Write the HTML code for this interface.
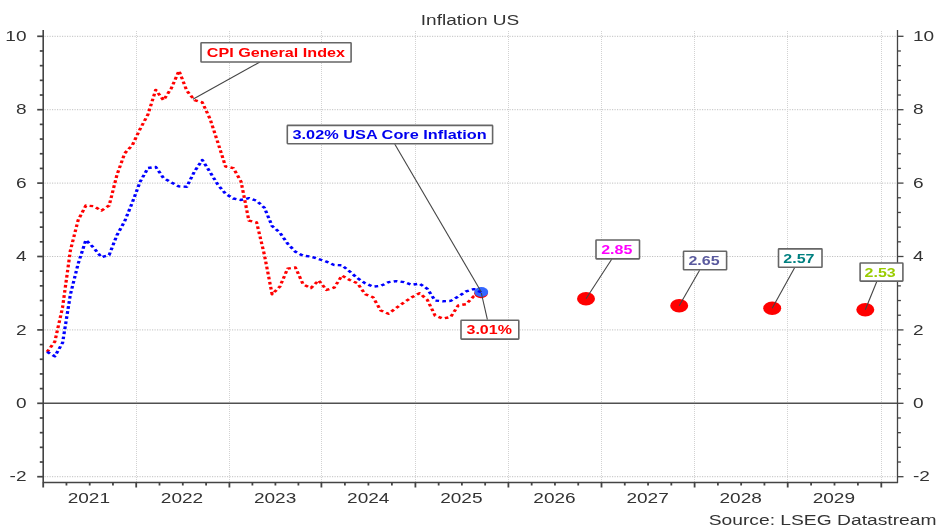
<!DOCTYPE html>
<html><head><meta charset="utf-8"><style>
html,body{margin:0;padding:0;background:#fff;width:940px;height:529px;overflow:hidden}
svg{display:block;will-change:transform}
text{font-family:"Liberation Sans",sans-serif}
</style></head><body>
<svg width="940" height="529" viewBox="0 0 940 529">
<g stroke="#c0c0c0" stroke-width="1"><line x1="44.5" y1="36.30" x2="897" y2="36.30" stroke-dasharray="1.2 1.3"/><line x1="44.5" y1="109.70" x2="897" y2="109.70" stroke-dasharray="1.2 1.3"/><line x1="44.5" y1="183.10" x2="897" y2="183.10" stroke-dasharray="1.2 1.3"/><line x1="44.5" y1="256.50" x2="897" y2="256.50" stroke-dasharray="1.2 1.3"/><line x1="44.5" y1="329.90" x2="897" y2="329.90" stroke-dasharray="1.2 1.3"/><line x1="44.5" y1="476.70" x2="897" y2="476.70" stroke-dasharray="1.2 1.3"/><line x1="136.5" y1="31" x2="136.5" y2="482" stroke-dasharray="1 1" stroke="#d2d2d2"/><line x1="229.5" y1="31" x2="229.5" y2="482" stroke-dasharray="1 1" stroke="#d2d2d2"/><line x1="321.5" y1="31" x2="321.5" y2="482" stroke-dasharray="1 1" stroke="#d2d2d2"/><line x1="415.5" y1="31" x2="415.5" y2="482" stroke-dasharray="1 1" stroke="#d2d2d2"/><line x1="508.5" y1="31" x2="508.5" y2="482" stroke-dasharray="1 1" stroke="#d2d2d2"/><line x1="601.5" y1="31" x2="601.5" y2="482" stroke-dasharray="1 1" stroke="#d2d2d2"/><line x1="694.5" y1="31" x2="694.5" y2="482" stroke-dasharray="1 1" stroke="#d2d2d2"/><line x1="787.5" y1="31" x2="787.5" y2="482" stroke-dasharray="1 1" stroke="#d2d2d2"/><line x1="881.5" y1="31" x2="881.5" y2="482" stroke-dasharray="1 1" stroke="#d2d2d2"/></g>
<line x1="43.5" y1="403.3" x2="897.5" y2="403.3" stroke="#505050" stroke-width="1.5"/>
<g stroke="#444" stroke-width="1.3"><line x1="43.2" y1="30" x2="43.2" y2="483" stroke-width="1.6"/><line x1="897.5" y1="30" x2="897.5" y2="483"/><line x1="43" y1="482.5" x2="898" y2="482.5"/><line x1="37.2" y1="476.70" x2="43.2" y2="476.70" stroke-width="1.7"/><line x1="897.5" y1="476.70" x2="903.5" y2="476.70"/><line x1="39.800000000000004" y1="462.02" x2="43.2" y2="462.02" stroke-width="1.7"/><line x1="897.5" y1="462.02" x2="900.9" y2="462.02"/><line x1="39.800000000000004" y1="447.34" x2="43.2" y2="447.34" stroke-width="1.7"/><line x1="897.5" y1="447.34" x2="900.9" y2="447.34"/><line x1="39.800000000000004" y1="432.66" x2="43.2" y2="432.66" stroke-width="1.7"/><line x1="897.5" y1="432.66" x2="900.9" y2="432.66"/><line x1="39.800000000000004" y1="417.98" x2="43.2" y2="417.98" stroke-width="1.7"/><line x1="897.5" y1="417.98" x2="900.9" y2="417.98"/><line x1="37.2" y1="403.30" x2="43.2" y2="403.30" stroke-width="1.7"/><line x1="897.5" y1="403.30" x2="903.5" y2="403.30"/><line x1="39.800000000000004" y1="388.62" x2="43.2" y2="388.62" stroke-width="1.7"/><line x1="897.5" y1="388.62" x2="900.9" y2="388.62"/><line x1="39.800000000000004" y1="373.94" x2="43.2" y2="373.94" stroke-width="1.7"/><line x1="897.5" y1="373.94" x2="900.9" y2="373.94"/><line x1="39.800000000000004" y1="359.26" x2="43.2" y2="359.26" stroke-width="1.7"/><line x1="897.5" y1="359.26" x2="900.9" y2="359.26"/><line x1="39.800000000000004" y1="344.58" x2="43.2" y2="344.58" stroke-width="1.7"/><line x1="897.5" y1="344.58" x2="900.9" y2="344.58"/><line x1="37.2" y1="329.90" x2="43.2" y2="329.90" stroke-width="1.7"/><line x1="897.5" y1="329.90" x2="903.5" y2="329.90"/><line x1="39.800000000000004" y1="315.22" x2="43.2" y2="315.22" stroke-width="1.7"/><line x1="897.5" y1="315.22" x2="900.9" y2="315.22"/><line x1="39.800000000000004" y1="300.54" x2="43.2" y2="300.54" stroke-width="1.7"/><line x1="897.5" y1="300.54" x2="900.9" y2="300.54"/><line x1="39.800000000000004" y1="285.86" x2="43.2" y2="285.86" stroke-width="1.7"/><line x1="897.5" y1="285.86" x2="900.9" y2="285.86"/><line x1="39.800000000000004" y1="271.18" x2="43.2" y2="271.18" stroke-width="1.7"/><line x1="897.5" y1="271.18" x2="900.9" y2="271.18"/><line x1="37.2" y1="256.50" x2="43.2" y2="256.50" stroke-width="1.7"/><line x1="897.5" y1="256.50" x2="903.5" y2="256.50"/><line x1="39.800000000000004" y1="241.82" x2="43.2" y2="241.82" stroke-width="1.7"/><line x1="897.5" y1="241.82" x2="900.9" y2="241.82"/><line x1="39.800000000000004" y1="227.14" x2="43.2" y2="227.14" stroke-width="1.7"/><line x1="897.5" y1="227.14" x2="900.9" y2="227.14"/><line x1="39.800000000000004" y1="212.46" x2="43.2" y2="212.46" stroke-width="1.7"/><line x1="897.5" y1="212.46" x2="900.9" y2="212.46"/><line x1="39.800000000000004" y1="197.78" x2="43.2" y2="197.78" stroke-width="1.7"/><line x1="897.5" y1="197.78" x2="900.9" y2="197.78"/><line x1="37.2" y1="183.10" x2="43.2" y2="183.10" stroke-width="1.7"/><line x1="897.5" y1="183.10" x2="903.5" y2="183.10"/><line x1="39.800000000000004" y1="168.42" x2="43.2" y2="168.42" stroke-width="1.7"/><line x1="897.5" y1="168.42" x2="900.9" y2="168.42"/><line x1="39.800000000000004" y1="153.74" x2="43.2" y2="153.74" stroke-width="1.7"/><line x1="897.5" y1="153.74" x2="900.9" y2="153.74"/><line x1="39.800000000000004" y1="139.06" x2="43.2" y2="139.06" stroke-width="1.7"/><line x1="897.5" y1="139.06" x2="900.9" y2="139.06"/><line x1="39.800000000000004" y1="124.38" x2="43.2" y2="124.38" stroke-width="1.7"/><line x1="897.5" y1="124.38" x2="900.9" y2="124.38"/><line x1="37.2" y1="109.70" x2="43.2" y2="109.70" stroke-width="1.7"/><line x1="897.5" y1="109.70" x2="903.5" y2="109.70"/><line x1="39.800000000000004" y1="95.02" x2="43.2" y2="95.02" stroke-width="1.7"/><line x1="897.5" y1="95.02" x2="900.9" y2="95.02"/><line x1="39.800000000000004" y1="80.34" x2="43.2" y2="80.34" stroke-width="1.7"/><line x1="897.5" y1="80.34" x2="900.9" y2="80.34"/><line x1="39.800000000000004" y1="65.66" x2="43.2" y2="65.66" stroke-width="1.7"/><line x1="897.5" y1="65.66" x2="900.9" y2="65.66"/><line x1="39.800000000000004" y1="50.98" x2="43.2" y2="50.98" stroke-width="1.7"/><line x1="897.5" y1="50.98" x2="900.9" y2="50.98"/><line x1="37.2" y1="36.30" x2="43.2" y2="36.30" stroke-width="1.7"/><line x1="897.5" y1="36.30" x2="903.5" y2="36.30"/><line x1="43.20" y1="482.5" x2="43.20" y2="487.5" stroke-width="1.8"/><line x1="66.45" y1="482.5" x2="66.45" y2="485.5" stroke-width="1.8"/><line x1="89.70" y1="482.5" x2="89.70" y2="485.5" stroke-width="1.8"/><line x1="112.95" y1="482.5" x2="112.95" y2="485.5" stroke-width="1.8"/><line x1="136.20" y1="482.5" x2="136.20" y2="487.5" stroke-width="1.8"/><line x1="159.50" y1="482.5" x2="159.50" y2="485.5" stroke-width="1.8"/><line x1="182.80" y1="482.5" x2="182.80" y2="485.5" stroke-width="1.8"/><line x1="206.10" y1="482.5" x2="206.10" y2="485.5" stroke-width="1.8"/><line x1="229.40" y1="482.5" x2="229.40" y2="487.5" stroke-width="1.8"/><line x1="252.40" y1="482.5" x2="252.40" y2="485.5" stroke-width="1.8"/><line x1="275.40" y1="482.5" x2="275.40" y2="485.5" stroke-width="1.8"/><line x1="298.40" y1="482.5" x2="298.40" y2="485.5" stroke-width="1.8"/><line x1="321.40" y1="482.5" x2="321.40" y2="487.5" stroke-width="1.8"/><line x1="344.90" y1="482.5" x2="344.90" y2="485.5" stroke-width="1.8"/><line x1="368.40" y1="482.5" x2="368.40" y2="485.5" stroke-width="1.8"/><line x1="391.90" y1="482.5" x2="391.90" y2="485.5" stroke-width="1.8"/><line x1="415.40" y1="482.5" x2="415.40" y2="487.5" stroke-width="1.8"/><line x1="438.65" y1="482.5" x2="438.65" y2="485.5" stroke-width="1.8"/><line x1="461.90" y1="482.5" x2="461.90" y2="485.5" stroke-width="1.8"/><line x1="485.15" y1="482.5" x2="485.15" y2="485.5" stroke-width="1.8"/><line x1="508.40" y1="482.5" x2="508.40" y2="487.5" stroke-width="1.8"/><line x1="531.67" y1="482.5" x2="531.67" y2="485.5" stroke-width="1.8"/><line x1="554.95" y1="482.5" x2="554.95" y2="485.5" stroke-width="1.8"/><line x1="578.23" y1="482.5" x2="578.23" y2="485.5" stroke-width="1.8"/><line x1="601.50" y1="482.5" x2="601.50" y2="487.5" stroke-width="1.8"/><line x1="624.77" y1="482.5" x2="624.77" y2="485.5" stroke-width="1.8"/><line x1="648.05" y1="482.5" x2="648.05" y2="485.5" stroke-width="1.8"/><line x1="671.33" y1="482.5" x2="671.33" y2="485.5" stroke-width="1.8"/><line x1="694.60" y1="482.5" x2="694.60" y2="487.5" stroke-width="1.8"/><line x1="717.88" y1="482.5" x2="717.88" y2="485.5" stroke-width="1.8"/><line x1="741.15" y1="482.5" x2="741.15" y2="485.5" stroke-width="1.8"/><line x1="764.43" y1="482.5" x2="764.43" y2="485.5" stroke-width="1.8"/><line x1="787.70" y1="482.5" x2="787.70" y2="487.5" stroke-width="1.8"/><line x1="811.10" y1="482.5" x2="811.10" y2="485.5" stroke-width="1.8"/><line x1="834.50" y1="482.5" x2="834.50" y2="485.5" stroke-width="1.8"/><line x1="857.90" y1="482.5" x2="857.90" y2="485.5" stroke-width="1.8"/><line x1="881.30" y1="482.5" x2="881.30" y2="487.5" stroke-width="1.8"/></g>
<g font-family="Liberation Sans, sans-serif"><text transform="translate(26.50,40.90) scale(1.36,1)" text-anchor="end" font-size="14" font-weight="normal" fill="#333">10</text><text transform="translate(912.90,40.90) scale(1.36,1)" text-anchor="start" font-size="14" font-weight="normal" fill="#333">10</text><text transform="translate(26.50,114.30) scale(1.36,1)" text-anchor="end" font-size="14" font-weight="normal" fill="#333">8</text><text transform="translate(912.90,114.30) scale(1.36,1)" text-anchor="start" font-size="14" font-weight="normal" fill="#333">8</text><text transform="translate(26.50,187.70) scale(1.36,1)" text-anchor="end" font-size="14" font-weight="normal" fill="#333">6</text><text transform="translate(912.90,187.70) scale(1.36,1)" text-anchor="start" font-size="14" font-weight="normal" fill="#333">6</text><text transform="translate(26.50,261.10) scale(1.36,1)" text-anchor="end" font-size="14" font-weight="normal" fill="#333">4</text><text transform="translate(912.90,261.10) scale(1.36,1)" text-anchor="start" font-size="14" font-weight="normal" fill="#333">4</text><text transform="translate(26.50,334.50) scale(1.36,1)" text-anchor="end" font-size="14" font-weight="normal" fill="#333">2</text><text transform="translate(912.90,334.50) scale(1.36,1)" text-anchor="start" font-size="14" font-weight="normal" fill="#333">2</text><text transform="translate(26.50,407.90) scale(1.36,1)" text-anchor="end" font-size="14" font-weight="normal" fill="#333">0</text><text transform="translate(912.90,407.90) scale(1.36,1)" text-anchor="start" font-size="14" font-weight="normal" fill="#333">0</text><text transform="translate(26.50,481.30) scale(1.36,1)" text-anchor="end" font-size="14" font-weight="normal" fill="#333">-2</text><text transform="translate(912.90,481.30) scale(1.36,1)" text-anchor="start" font-size="14" font-weight="normal" fill="#333">-2</text><text transform="translate(88.86,502.60) scale(1.36,1)" text-anchor="middle" font-size="14" font-weight="normal" fill="#333">2021</text><text transform="translate(181.98,502.60) scale(1.36,1)" text-anchor="middle" font-size="14" font-weight="normal" fill="#333">2022</text><text transform="translate(275.10,502.60) scale(1.36,1)" text-anchor="middle" font-size="14" font-weight="normal" fill="#333">2023</text><text transform="translate(368.22,502.60) scale(1.36,1)" text-anchor="middle" font-size="14" font-weight="normal" fill="#333">2024</text><text transform="translate(461.34,502.60) scale(1.36,1)" text-anchor="middle" font-size="14" font-weight="normal" fill="#333">2025</text><text transform="translate(554.46,502.60) scale(1.36,1)" text-anchor="middle" font-size="14" font-weight="normal" fill="#333">2026</text><text transform="translate(647.58,502.60) scale(1.36,1)" text-anchor="middle" font-size="14" font-weight="normal" fill="#333">2027</text><text transform="translate(740.70,502.60) scale(1.36,1)" text-anchor="middle" font-size="14" font-weight="normal" fill="#333">2028</text><text transform="translate(833.82,502.60) scale(1.36,1)" text-anchor="middle" font-size="14" font-weight="normal" fill="#333">2029</text><text transform="translate(470.00,24.80) scale(1.36,1)" text-anchor="middle" font-size="14" font-weight="normal" fill="#333">Inflation US</text><text transform="translate(936.50,525.00) scale(1.375,1)" text-anchor="end" font-size="14" font-weight="normal" fill="#333">Source: LSEG Datastream</text></g>
<g transform="scale(1.36,1)"><path d="M34.618,351.92 L40.324,341.64 L46.029,307.15 L51.735,250.63 L57.441,220.17 L63.147,205.49 L68.853,206.22 L74.559,210.62 L80.265,205.49 L85.971,175.03 L91.676,153.37 L97.382,144.93 L103.088,128.78 L108.794,114.47 L114.500,89.88 L120.206,100.16 L125.912,88.41 L131.618,70.80 L137.324,90.62 L143.029,100.16 L148.735,102.36 L154.441,118.88 L160.147,142.36 L165.853,166.58 L171.559,168.05 L177.265,181.63 L182.971,220.53 L188.676,222.37 L194.382,254.67 L200.088,294.30 L205.794,286.59 L211.500,268.61 L217.206,267.51 L222.912,284.39 L228.618,288.06 L234.324,280.36 L240.029,289.90 L245.735,287.69 L251.441,275.58 L257.147,279.99 L262.853,283.29 L268.559,294.30 L274.265,297.24 L279.971,310.45 L285.676,313.75 L291.382,307.88 L297.088,302.38 L302.794,297.24 L308.500,293.20 L314.206,299.81 L319.912,315.59 L325.618,318.52 L331.324,317.06 L337.029,305.31 L342.735,304.21 L348.441,296.14 L354.147,292.83" fill="none" stroke="#ff0000" stroke-width="2.4" stroke-dasharray="2.7 2.4" stroke-linejoin="round"/></g>
<ellipse cx="481.0" cy="293.3" rx="6.8" ry="4.9" fill="#ff0000"/><ellipse cx="481.3" cy="292" rx="6.9" ry="4.9" fill="#3366ff"/><ellipse cx="586" cy="298.8" rx="9" ry="6.7" fill="#ff0000"/><ellipse cx="679.2" cy="305.8" rx="9" ry="6.7" fill="#ff0000"/><ellipse cx="772.2" cy="308.3" rx="9" ry="6.7" fill="#ff0000"/><ellipse cx="865.3" cy="309.8" rx="9" ry="6.7" fill="#ff0000"/>
<g transform="scale(1.36,1)"><path d="M34.618,351.92 L40.324,356.32 L46.029,342.75 L51.735,294.67 L57.441,263.84 L63.147,239.98 L68.853,247.69 L74.559,257.23 L80.265,255.03 L85.971,235.21 L91.676,221.27 L97.382,202.18 L103.088,181.63 L108.794,168.05 L114.500,166.95 L120.206,177.96 L125.912,182.37 L131.618,186.40 L137.324,186.77 L143.029,171.36 L148.735,159.98 L154.441,172.09 L160.147,184.57 L165.853,193.74 L171.559,198.51 L177.265,199.98 L182.971,198.15 L188.676,200.72 L194.382,207.69 L200.088,226.04 L205.794,232.64 L211.500,243.66 L217.206,251.73 L222.912,255.77 L228.618,256.50 L234.324,259.07 L240.029,261.64 L245.735,264.94 L251.441,265.31 L257.147,271.55 L262.853,278.15 L268.559,283.29 L274.265,286.59 L279.971,285.86 L285.676,282.19 L291.382,281.09 L297.088,282.19 L302.794,284.76 L308.500,283.66 L314.206,288.80 L319.912,300.54 L325.618,301.27 L331.324,300.91 L337.029,296.50 L342.735,291.37 L348.441,289.16 L354.147,292.47" fill="none" stroke="#0000ff" stroke-width="2.4" stroke-dasharray="2.7 2.4" stroke-linejoin="round"/></g>
<g stroke="#444" stroke-width="1.1"><line x1="259.9" y1="62" x2="192.9" y2="99.2"/><line x1="394.7" y1="144" x2="481.3" y2="292"/><line x1="481.3" y1="293" x2="487.4" y2="319.6"/><line x1="611.7" y1="259.3" x2="586" y2="298.8"/><line x1="699.6" y1="270.2" x2="679.2" y2="305.8"/><line x1="794.6" y1="267.7" x2="772.2" y2="308.3"/><line x1="876.7" y1="281.8" x2="865.3" y2="309.8"/></g>
<g font-family="Liberation Sans, sans-serif"><rect x="201.00" y="42.70" width="150.10" height="19.30" rx="0.6" fill="#fff" stroke="#666" stroke-width="1.6"/><text transform="translate(275.90,57.00) scale(1.345,1)" text-anchor="middle" font-size="12" font-weight="bold" fill="#ff0000">CPI General Index</text><rect x="287.30" y="125.40" width="205.30" height="18.30" rx="0.6" fill="#fff" stroke="#666" stroke-width="1.6"/><text transform="translate(389.60,139.20) scale(1.36,1)" text-anchor="middle" font-size="12" font-weight="bold" fill="#0000ee">3.02% USA Core Inflation</text><rect x="461.00" y="320.30" width="57.80" height="18.80" rx="0.6" fill="#fff" stroke="#666" stroke-width="1.6"/><text transform="translate(489.20,333.90) scale(1.335,1)" text-anchor="middle" font-size="12" font-weight="bold" fill="#ff0000">3.01%</text><rect x="596.00" y="240.00" width="43.50" height="18.90" rx="0.6" fill="#fff" stroke="#666" stroke-width="1.6"/><text transform="translate(616.80,254.10) scale(1.335,1)" text-anchor="middle" font-size="12" font-weight="bold" fill="#ff00ff">2.85</text><rect x="683.50" y="251.30" width="43.10" height="18.50" rx="0.6" fill="#fff" stroke="#666" stroke-width="1.6"/><text transform="translate(704.00,264.70) scale(1.335,1)" text-anchor="middle" font-size="12" font-weight="bold" fill="#5a5a9e">2.65</text><rect x="778.50" y="248.90" width="43.50" height="18.40" rx="0.6" fill="#fff" stroke="#666" stroke-width="1.6"/><text transform="translate(798.90,263.30) scale(1.335,1)" text-anchor="middle" font-size="12" font-weight="bold" fill="#008080">2.57</text><rect x="860.10" y="263.00" width="42.80" height="18.10" rx="0.6" fill="#fff" stroke="#666" stroke-width="1.6"/><text transform="translate(880.20,277.10) scale(1.335,1)" text-anchor="middle" font-size="12" font-weight="bold" fill="#99cc00">2.53</text></g>
</svg>
</body></html>
